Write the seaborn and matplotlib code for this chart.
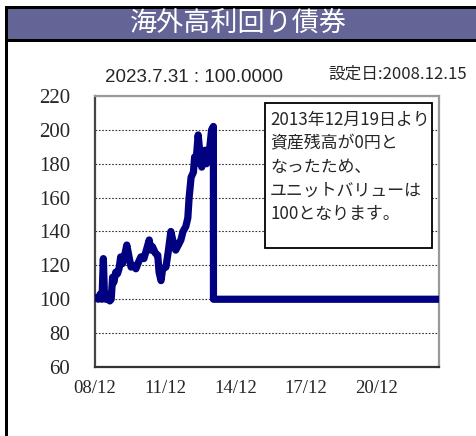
import numpy as np
import pandas as pd
import matplotlib
matplotlib.use("Agg")
import matplotlib.pyplot as plt
import matplotlib.dates as mdates
from matplotlib.patches import Rectangle
import seaborn as sns

# =========================================================
# DATA
# =========================================================
dates = [
    "2008-12-15", "2009-01-20", "2009-02-20", "2009-03-20", "2009-04-10",
    "2009-04-25", "2009-05-20", "2009-06-20", "2009-07-20", "2009-08-10",
    "2009-09-01", "2009-09-20", "2009-10-20", "2009-11-15", "2009-12-10",
    "2010-01-05", "2010-02-01", "2010-02-25", "2010-04-10", "2010-05-20",
    "2010-06-15", "2010-07-20", "2010-08-30", "2010-10-10", "2010-11-15",
    "2011-01-01", "2011-02-01", "2011-03-25", "2011-04-20", "2011-05-15",
    "2011-07-01", "2011-08-05", "2011-08-25", "2011-09-25", "2011-10-20",
    "2011-12-10", "2012-01-15", "2012-02-25", "2012-03-25", "2012-05-10",
    "2012-06-20", "2012-07-30", "2012-09-01", "2012-10-15", "2012-11-15",
    "2012-12-05", "2013-01-05", "2013-02-10", "2013-03-01", "2013-03-20",
    "2013-04-25", "2013-05-25", "2013-06-20", "2013-07-10", "2013-08-10",
    "2013-09-01", "2013-10-10", "2013-11-20", "2013-12-18", "2013-12-19",
    "2023-07-31",
]
values = [
    101, 100, 103, 100, 124,
    105, 100, 101, 99, 100,
    113, 110, 116, 115, 118,
    125, 121, 124, 132, 124,
    119, 120, 118, 122, 125,
    124, 128, 135, 129, 131,
    127, 126, 116, 111, 118,
    119, 128, 140, 135, 129,
    132, 135, 140, 143, 148,
    160, 172, 175, 184, 180,
    197, 185, 178, 183, 188,
    180, 185, 200, 202, 100,
    100,
]

y_ticks = [60, 80, 100, 120, 140, 160, 180, 200, 220]
x_ticks = ["2008-12-01", "2011-12-01", "2014-12-01", "2017-12-01", "2020-12-01"]

title_text = "海外高利回り債券"
latest_text = "2023.7.31 : 100.0000"
setup_text = "設定日:2008.12.15"
note_lines = [
    "2013年12月19日より",
    "資産残高が0円と",
    "なったため、",
    "ユニットバリューは",
    "100となります。",
]

df = pd.DataFrame({"date": pd.to_datetime(dates), "value": values})

# =========================================================
# FIGURE
# =========================================================
sns.set_style("white")
plt.rcParams["font.family"] = ["Noto Sans CJK JP", "DejaVu Sans"]

W, H = 476, 436
fig = plt.figure(figsize=(W / 100, H / 100), dpi=100)
fig.patch.set_facecolor("white")


def px_rect(x0, y0, x1, y1, color):
    # rectangle in pixel coords (origin top-left)
    fig.patches.append(Rectangle((x0 / W, 1 - y1 / H), (x1 - x0) / W, (y1 - y0) / H,
                                 transform=fig.transFigure, facecolor=color,
                                 edgecolor="none", zorder=0))


# frame + title bar
px_rect(5, 6, W, 9, "black")
px_rect(8, 9, W, 39, "#646496")
px_rect(8, 39, W, 42, "black")
px_rect(5, 6, 8, H, "black")

fig.text(238 / W, 1 - 24 / H, title_text, color="white", fontsize=19.5,
         ha="center", va="center")
fig.text(194 / W, 1 - 78 / H, latest_text, fontsize=13.5, ha="center", va="center",
         family=["Liberation Sans", "DejaVu Sans"])
fig.text(398 / W, 1 - 74 / H, setup_text, fontsize=12, ha="center", va="center")

ax = fig.add_axes([95 / W, 1 - 367 / H, (439 - 95) / W, (367 - 96) / H])

sns.lineplot(data=df, x="date", y="value", ax=ax, color="#000080", linewidth=5.2,
             solid_joinstyle="round", zorder=3)

ax.set_ylim(60, 220)
ax.set_xlim(pd.Timestamp("2008-12-01"), pd.Timestamp("2023-07-31"))
ax.set_yticks(y_ticks)
ax.set_xticks(pd.to_datetime(x_ticks))
ax.xaxis.set_major_formatter(mdates.DateFormatter("%y/%m"))
ax.set_xlabel("")
ax.set_ylabel("")

serif = ["Liberation Serif", "DejaVu Serif"]
for lab in ax.get_yticklabels():
    lab.set_family(serif)
    lab.set_fontsize(15)
for lab in ax.get_xticklabels():
    lab.set_family(serif)
    lab.set_fontsize(13.5)

ax.tick_params(axis="y", length=0, pad=18)
ax.tick_params(axis="x", direction="in", length=4, width=1, color="#333333", pad=9)

ax.yaxis.grid(True, color="#333333", linestyle=(0, (1.5, 1.5)), linewidth=0.8)
ax.xaxis.grid(False)
ax.set_axisbelow(True)

ax.spines["left"].set_color("#444444")
ax.spines["bottom"].set_color("#333333")
ax.spines["top"].set_color("#999999")
ax.spines["right"].set_color("#999999")
for s in ax.spines.values():
    s.set_linewidth(1.6)

# note box
box_x0, box_y0, box_x1, box_y1 = 265, 103, 432, 248
fig.patches.append(Rectangle((box_x0 / W, 1 - box_y1 / H), (box_x1 - box_x0) / W,
                             (box_y1 - box_y0) / H, transform=fig.transFigure,
                             facecolor="white", edgecolor="black", linewidth=1.3,
                             zorder=5))
for i, line in enumerate(note_lines):
    fig.text(270 / W, 1 - (120 + i * 23.5) / H, line, fontsize=12.2, ha="left",
             va="center", zorder=6)

fig.savefig("out.png", dpi=100)
